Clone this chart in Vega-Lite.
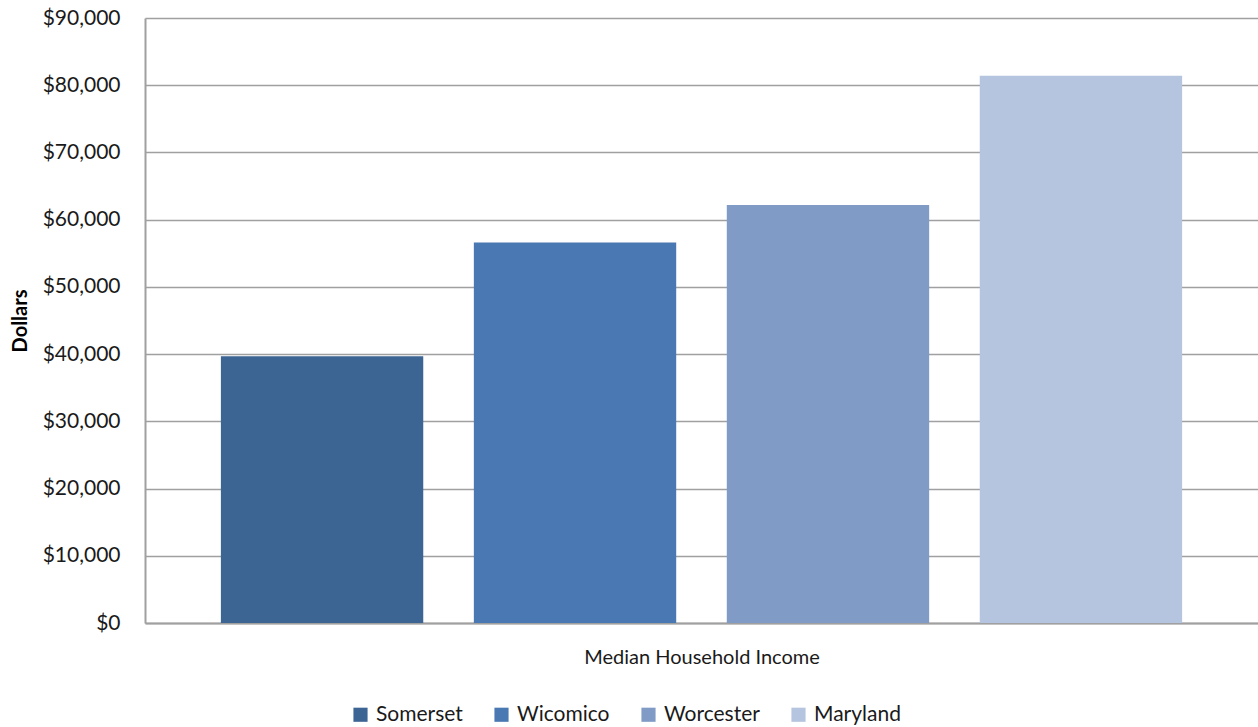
{
  "$schema": "https://vega.github.io/schema/vega-lite/v6.json",
  "autosize": {"type": "none"},
  "width": 1113,
  "height": 605,
  "padding": {"left": 145, "top": 18, "right": 0, "bottom": 104},
  "background": "white",
  "data": {
    "values": [
      {"region": "Somerset", "income": 39700},
      {"region": "Wicomico", "income": 56600},
      {"region": "Worcester", "income": 62200},
      {"region": "Maryland", "income": 81400}
    ]
  },
  "config": {
    "view": {"stroke": null},
    "font": "Lato",
    "axis": {"labelFont": "Lato", "titleFont": "Lato"},
    "legend": {"labelFont": "Lato"}
  },
  "mark": {"type": "bar"},
  "encoding": {
    "x": {
      "field": "region",
      "type": "nominal",
      "sort": ["Somerset", "Wicomico", "Worcester", "Maryland"],
      "scale": {"paddingInner": 0.2, "paddingOuter": 0.3},
      "axis": {
        "labels": false,
        "ticks": false,
        "domain": true,
        "domainColor": "#a0a0a0",
        "domainWidth": 2,
        "title": "Median Household Income",
        "titleFontSize": 20,
        "titleFontWeight": "normal",
        "titleColor": "#1a1a1a",
        "titlePadding": 24
      }
    },
    "y": {
      "field": "income",
      "type": "quantitative",
      "scale": {"domain": [0, 90000], "nice": false},
      "axis": {
        "values": [0, 10000, 20000, 30000, 40000, 50000, 60000, 70000, 80000, 90000],
        "format": "$,.0f",
        "labelFontSize": 21,
        "labelColor": "#1a1a1a",
        "labelPadding": 25,
        "ticks": false,
        "domainColor": "#a0a0a0",
        "domainWidth": 2,
        "gridColor": "#a0a0a0",
        "gridWidth": 1.5,
        "title": "Dollars",
        "titleFontSize": 20,
        "titleFontWeight": "bold",
        "titleColor": "#000000",
        "titlePadding": 12
      }
    },
    "color": {
      "field": "region",
      "type": "nominal",
      "sort": ["Somerset", "Wicomico", "Worcester", "Maryland"],
      "scale": {
        "domain": ["Somerset", "Wicomico", "Worcester", "Maryland"],
        "range": ["#3d6594", "#4a78b2", "#7f9bc6", "#b5c4df"]
      },
      "legend": {
        "orient": "none",
        "legendX": 205,
        "legendY": 686,
        "direction": "horizontal",
        "title": null,
        "symbolType": "square",
        "symbolSize": 200,
        "symbolStrokeWidth": 0,
        "labelFontSize": 21,
        "labelColor": "#1a1a1a",
        "labelOffset": 5,
        "columnPadding": 28
      }
    }
  }
}
